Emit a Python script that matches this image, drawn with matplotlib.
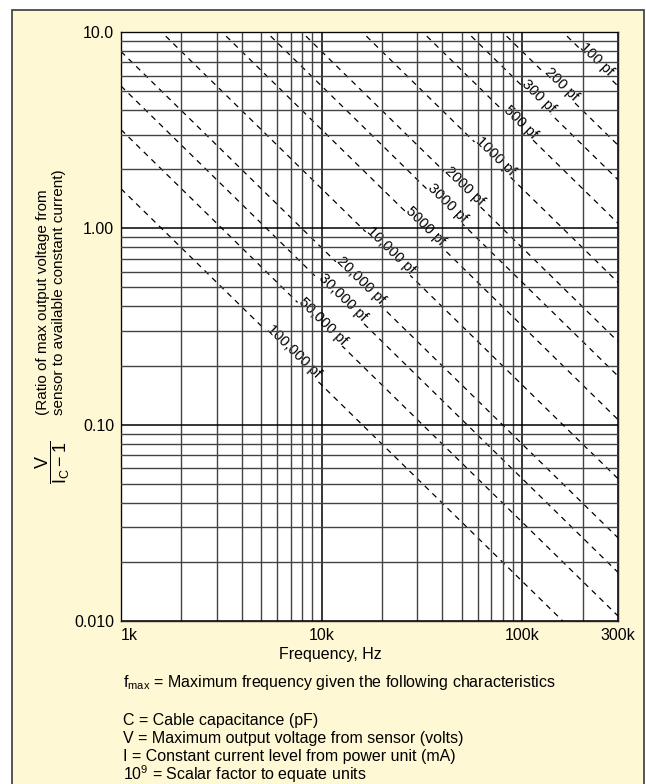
import numpy as np
import matplotlib
matplotlib.use('Agg')
import matplotlib.pyplot as plt
from matplotlib.patches import Rectangle
from matplotlib.ticker import LogLocator, NullFormatter

plt.rcParams['font.family'] = ['Liberation Sans', 'DejaVu Sans']
plt.rcParams['mathtext.fontset'] = 'custom'
plt.rcParams['mathtext.rm'] = 'Liberation Sans'
plt.rcParams['mathtext.it'] = 'Liberation Sans:italic'
plt.rcParams['mathtext.default'] = 'regular'

# cable capacitance of each dashed line (pF)
cap_pf = [100, 200, 300, 500, 1000, 2000, 3000, 5000,
          10000, 20000, 30000, 50000, 100000]
cap_labels = ['100 pf', '200 pf', '300 pf', '500 pf', '1000 pf', '2000 pf',
              '3000 pf', '5000 pf', '10,000 pf', '20,000 pf', '30,000 pf',
              '50,000 pf', '100,000 pf']
# where along each line its label sits (Hz)
label_freq = [228e3, 152e3, 117e3, 95e3, 71e3, 50e3, 41e3, 32e3,
              21.4e3, 15.2e3, 12.4e3, 9.8e3, 7.0e3]

freq_range = [1e3, 3e5]
freq_ticks = [1e3, 1e4, 1e5, 3e5]
freq_tick_labels = ['1k', '10k', '100k', '300k']
ratio_ticks = [0.01, 0.1, 1, 10]
ratio_tick_labels = ['0.010', '0.10', '1.00', '10.0']

notes = ['C = Cable capacitance (pF)',
         'V = Maximum output voltage from sensor (volts)',
         'I = Constant current level from power unit (mA)',
         '10$^9$ = Scalar factor to equate units']

FS = 11.5


def ratio(f, c):
    # V/(Ic-1) at which f is the max frequency for capacitance c
    return 1e9 / (2 * np.pi * c * np.asarray(f))


W, H = 646, 784
fig = plt.figure(figsize=(W / 100, H / 100), dpi=100)
fig.patch.set_facecolor('white')
fig.add_artist(Rectangle((12 / W, -0.01), 632 / W, 1 - 10 / H + 0.01,
                         transform=fig.transFigure, facecolor='#FFF8D4',
                         edgecolor='#3a3a3a', lw=1.2, zorder=0))

ax = fig.add_axes([121 / W, 1 - 621 / H, 497 / W, 589 / H])
ax.set_facecolor('white')
ax.set_xscale('log')
ax.set_yscale('log')
ax.set_xlim(freq_range)
ax.set_ylim(ratio_ticks[0], ratio_ticks[-1])

ax.set_xticks(freq_ticks, freq_tick_labels)
ax.set_yticks(ratio_ticks, ratio_tick_labels)
ax.xaxis.set_minor_locator(LogLocator(subs=np.arange(2, 10)))
ax.yaxis.set_minor_locator(LogLocator(subs=np.arange(2, 10)))
ax.xaxis.set_minor_formatter(NullFormatter())
ax.yaxis.set_minor_formatter(NullFormatter())
ax.tick_params(which='both', length=0)
ax.tick_params(labelsize=FS, pad=5)
ax.get_xticklabels()[0].set_ha('left')

# grid on top of the labels, like printed graph paper
ax.set_axisbelow(False)
ax.grid(which='major', color='black', lw=1.1)
ax.grid(which='minor', color='#444444', lw=1.0)
for s in ax.spines.values():
    s.set_color('#222222')
    s.set_linewidth(1.0)

for c in cap_pf:
    ax.plot(freq_range, ratio(freq_range, c), color='black', lw=0.9,
            ls=(0, (4.5, 4)), zorder=1.5)

# angle of the dashed lines on screen
p = ax.transData.transform([(1e4, ratio(1e4, 1000)), (1e5, ratio(1e5, 1000))])
angle = np.degrees(np.arctan2(p[1, 1] - p[0, 1], p[1, 0] - p[0, 0]))

for c, lab, fl in zip(cap_pf, cap_labels, label_freq):
    ax.text(fl, ratio(fl, c), lab, rotation=angle, rotation_mode='anchor',
            ha='center', va='baseline', fontsize=10.5, zorder=2,
            bbox=dict(facecolor='white', edgecolor='none', pad=0.3))

# axis titles
fig.text(53 / W, 1 - 462 / H, r'$\dfrac{V}{I_C - 1}$', rotation=90,
         ha='center', va='center', fontsize=13)
fig.text(51 / W, 1 - 415 / H,
         '(Ratio of max output voltage from\nsensor to available constant current)',
         rotation=90, ha='center', va='bottom', multialignment='left',
         fontsize=11)
fig.text(330 / W, 1 - 655 / H, 'Frequency, Hz', ha='center', va='center',
         fontsize=FS)

fig.text(123 / W, 1 - 683 / H,
         'f$_{max}$ = Maximum frequency given the following characteristics',
         ha='left', va='center', fontsize=FS)
for i, line in enumerate(notes):
    fig.text(123 / W, 1 - (720 + 18 * i) / H, line, ha='left', va='center',
             fontsize=FS)

fig.savefig('out.png', dpi=100, facecolor=fig.get_facecolor())
